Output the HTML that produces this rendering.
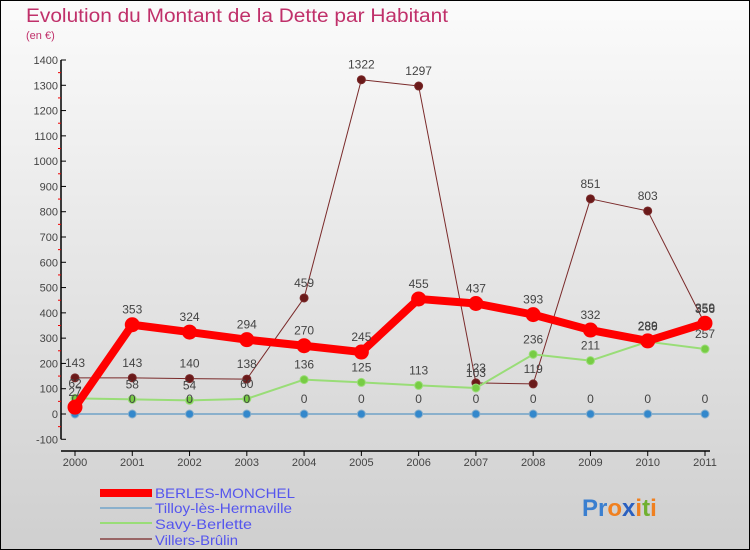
<!DOCTYPE html>
<html><head><meta charset="utf-8"><style>
body{margin:0;width:750px;height:550px;overflow:hidden;font-family:"Liberation Sans",sans-serif}
svg{display:block}
</style></head><body>
<svg id="chart" width="750" height="550" viewBox="0 0 750 550">
<defs><linearGradient id="bg" x1="0" y1="0" x2="0" y2="1"><stop offset="0" stop-color="#fbfbfb"/><stop offset="1" stop-color="#cfcfcf"/></linearGradient></defs>
<rect x="0.5" y="0.5" width="749" height="549" fill="url(#bg)" stroke="#000"/>
<text x="26" y="22" font-size="19" fill="#c0306a" textLength="422" lengthAdjust="spacingAndGlyphs">Evolution du Montant de la Dette par Habitant</text>
<text x="26" y="39" font-size="11" fill="#c0306a">(en €)</text>
<g id="axes"></g><g id="series"></g>
<g>
<rect x="100" y="489" width="52" height="8" fill="#ff0000"/>
<text x="155" y="498" font-size="14" fill="#5555ee" textLength="140" lengthAdjust="spacingAndGlyphs">BERLES-MONCHEL</text>
<rect x="100" y="507" width="52" height="2" fill="#8ab0cc"/>
<text x="155" y="513" font-size="14" fill="#5555ee" textLength="137" lengthAdjust="spacingAndGlyphs">Tilloy-lès-Hermaville</text>
<rect x="100" y="522" width="52" height="2" fill="#99dd77"/>
<text x="155" y="529" font-size="14" fill="#5555ee" textLength="97" lengthAdjust="spacingAndGlyphs">Savy-Berlette</text>
<rect x="100" y="538" width="52" height="2" fill="#996666"/>
<text x="155" y="545" font-size="14" fill="#5555ee" textLength="83" lengthAdjust="spacingAndGlyphs">Villers-Brûlin</text>
</g>
<g font-size="24" font-weight="bold">
<text x="582" y="516"><tspan fill="#3a7fd0">Pr</tspan><tspan fill="#f08020">o</tspan><tspan fill="#2a60c0">x</tspan><tspan fill="#f08020">i</tspan><tspan fill="#70b030">t</tspan><tspan fill="#f08020">i</tspan></text>
</g>
</svg>
<script>
const years=[2000,2001,2002,2003,2004,2005,2006,2007,2008,2009,2010,2011];
const yTicks=[-100,0,100,200,300,400,500,600,700,800,900,1000,1100,1200,1300,1400];
const berles=[27,353,324,294,270,245,455,437,393,332,289,359];
const tilloy=[0,0,0,0,0,0,0,0,0,0,0,0];
const savy=[62,58,54,60,136,125,113,103,236,211,286,257];
const villers=[143,143,140,138,459,1322,1297,123,119,851,803,356];
const NS='http://www.w3.org/2000/svg';
const X=i=>75+i*(630/11);
const Y=v=>414-v*354/1400;
function mk(tag,attrs,parent){const e=document.createElementNS(NS,tag);for(const k in attrs)e.setAttribute(k,attrs[k]);parent.appendChild(e);return e;}
const ax=document.getElementById('axes');
let a=mk('line',{x1:61,y1:Y(1400),x2:61,y2:Y(-100),stroke:'#000','stroke-width':1.5},ax);


a=mk('line',{x1:61,y1:451,x2:710,y2:451,stroke:'#000','stroke-width':1.5},ax);


yTicks.forEach(v=>{
  mk('line',{x1:61,y1:Y(v),x2:66,y2:Y(v),stroke:'#000'},ax);
  if(v<1400)mk('line',{x1:58,y1:Y(v+50),x2:61,y2:Y(v+50),stroke:'#e00'},ax);
  const t=mk('text',{x:58,y:Y(v)+4,'font-size':11,fill:'#444','text-anchor':'end'},ax);
  t.textContent=v;
  
  
});
years.forEach((yr,i)=>{
  mk('line',{x1:X(i),y1:451,x2:X(i),y2:456,stroke:'#000'},ax);
  const t=mk('text',{x:X(i),y:466,'font-size':11,fill:'#444','text-anchor':'middle'},ax);
  t.textContent=yr;
  
  
});
const sg=document.getElementById('series');
function draw(name,vals,color,w,r,dot){
  const g=mk('g',{},sg);
  
  
  const p=mk('polyline',{points:vals.map((v,i)=>X(i)+','+Y(v)).join(' '),fill:'none',stroke:color,'stroke-width':w,'stroke-linejoin':'round'},g);
  
  
  vals.forEach((v,i)=>{
    const c=mk('circle',{cx:X(i),cy:Y(v),r:r,fill:dot,stroke:color,'stroke-width':1},g);
    
    
    const t=mk('text',{x:X(i),y:Y(v)-11,'font-size':12,fill:'#444','text-anchor':'middle'},g);
    t.textContent=v;
    
    
  });
}
draw('villers',villers,'#7a2a2a',1,4,'#6a1a1a');
draw('savy',savy,'#99dd77',2,4,'#77cc44');
draw('tilloy',tilloy,'#8ab0cc',2,4,'#3388cc');
draw('berles',berles,'#ff0000',8,7,'#ff0000');
</script>
</body></html>
